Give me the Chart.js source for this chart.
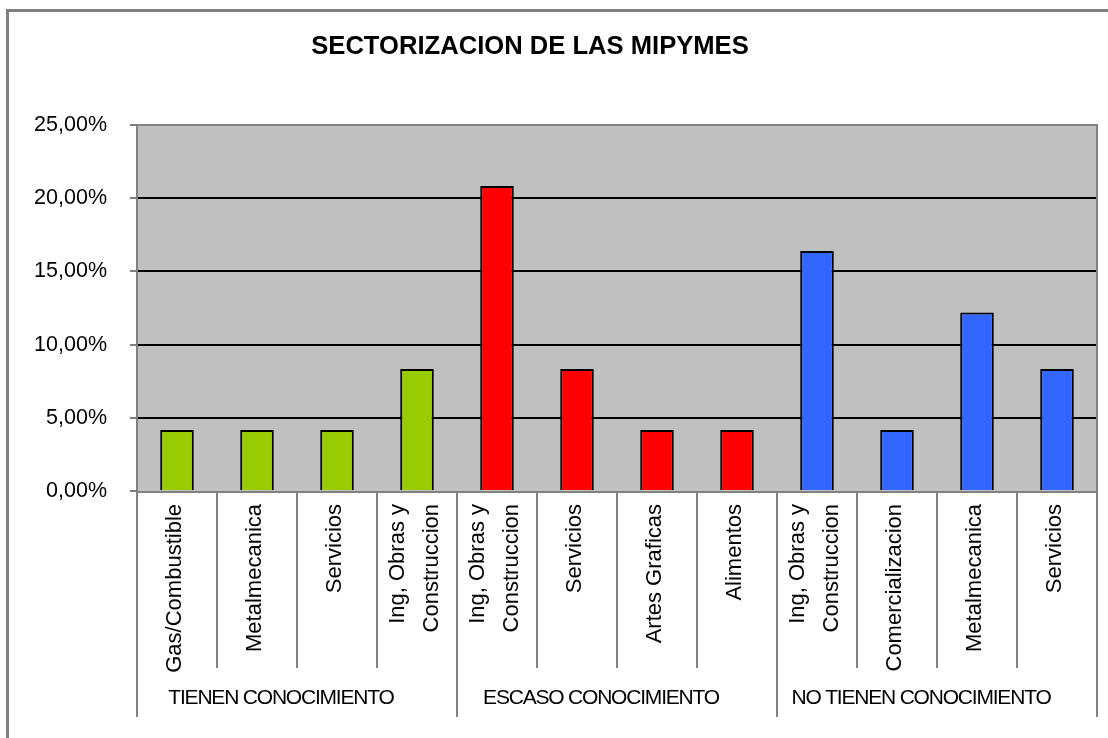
<!DOCTYPE html>
<html>
<head>
<meta charset="utf-8">
<script src="https://cdn.jsdelivr.net/npm/chart.js@4.4.0/dist/chart.umd.min.js"></script>
<style>
  body { margin: 0; background: #fff; }
  #wrap { width: 1108px; height: 738px; }
</style>
</head>
<body>
<div id="wrap"><canvas id="c" width="1108" height="738"></canvas></div>
<script>
// ===== Data =====
const categories = [
  "Gas/Combustible", "Metalmecanica", "Servicios", ["Ing, Obras y", "Construccion"],
  ["Ing, Obras y", "Construccion"], "Servicios", "Artes Graficas", "Alimentos",
  ["Ing, Obras y", "Construccion"], "Comercializacion", "Metalmecanica", "Servicios"
];
const values = [4.17, 4.17, 4.17, 8.33, 20.83, 8.33, 4.17, 4.17, 16.4, 4.17, 12.2, 8.33];
const groups = ["TIENEN CONOCIMIENTO", "ESCASO CONOCIMIENTO", "NO TIENEN CONOCIMIENTO"];
const groupSizes = [4, 4, 4];
const groupColors = ["#99CC00", "#FF0000", "#3366FF"];
const yTicks = [0, 5, 10, 15, 20, 25];

const barColors = [];
groupSizes.forEach((n, g) => { for (let i = 0; i < n; i++) barColors.push(groupColors[g]); });

const FONT = "'Liberation Sans', Arial, sans-serif";
const GRAY = "#808080";

// ===== Plugins =====
const frame = {
  id: "frame",
  beforeDraw(chart) {
    const { ctx, chartArea: a } = chart;
    ctx.save();
    ctx.fillStyle = "#fff";
    ctx.fillRect(0, 0, chart.width, chart.height);
    ctx.strokeStyle = GRAY;
    ctx.lineWidth = 3;
    ctx.strokeRect(7.5, 10.5, 1300, 900);
    ctx.fillStyle = "#C0C0C0";
    ctx.fillRect(a.left, a.top, a.right - a.left, a.bottom - a.top);
    ctx.restore();
  },
  afterDatasetsDraw(chart) {
    const { ctx, chartArea: a } = chart;
    ctx.save();
    ctx.strokeStyle = GRAY;
    ctx.lineWidth = 2;
    ctx.strokeRect(a.left, a.top, a.right - a.left, a.bottom - a.top + 1);
    ctx.restore();
  },
  afterDraw(chart) {
    const { ctx, chartArea: a } = chart;
    const x = chart.scales.x;
    const half = (x.getPixelForValue(1) - x.getPixelForValue(0)) / 2;

    // title
    ctx.save();
    ctx.fillStyle = "#000";
    ctx.font = "bold 25.6px " + FONT;
    ctx.textAlign = "center";
    ctx.textBaseline = "middle";
    ctx.fillText("SECTORIZACION DE LAS MIPYMES", 530, 47);
    ctx.restore();

    // separators
    ctx.save();
    ctx.strokeStyle = GRAY;
    ctx.lineWidth = 2;
    const bounds = [0];
    groupSizes.reduce((s, n) => { bounds.push(s + n); return s + n; }, 0);
    for (let i = 0; i <= categories.length; i++) {
      const px = Math.round(x.getPixelForValue(i) - half);
      const bottom = bounds.includes(i) ? 717 : 668;
      ctx.beginPath();
      ctx.moveTo(px, a.bottom);
      ctx.lineTo(px, bottom);
      ctx.stroke();
    }
    ctx.restore();

    // category labels (rotated)
    ctx.save();
    ctx.fillStyle = "#000";
    ctx.font = "22px " + FONT;
    categories.forEach((lab, i) => {
      const lines = Array.isArray(lab) ? lab : [lab];
      const cx = x.getPixelForValue(i);
      ctx.save();
      ctx.translate(cx - 2, 504);
      ctx.rotate(-Math.PI / 2);
      ctx.textAlign = "right";
      ctx.textBaseline = "middle";
      lines.forEach((ln, k) => {
        const off = (k - (lines.length - 1) / 2) * 34;
        ctx.fillText(ln, 0, off);
      });
      ctx.restore();
    });
    ctx.restore();

    // group labels
    ctx.save();
    ctx.fillStyle = "#000";
    ctx.font = "21px " + FONT;
    ctx.letterSpacing = "-1.2px";
    ctx.textAlign = "center";
    ctx.textBaseline = "middle";
    let start = 0;
    groups.forEach((g, gi) => {
      const l = x.getPixelForValue(start) - half;
      const r = x.getPixelForValue(start + groupSizes[gi] - 1) + half;
      ctx.fillText(g, (l + r) / 2 - 16, 698);
      start += groupSizes[gi];
    });
    ctx.restore();
  }
};

// ===== Chart =====
new Chart(document.getElementById("c"), {
  type: "bar",
  data: {
    labels: categories,
    datasets: [{
      data: values,
      backgroundColor: barColors,
      borderColor: "#000",
      borderWidth: 2,
      barPercentage: 0.42,
      categoryPercentage: 1
    }]
  },
  options: {
    responsive: false,
    animation: false,
    devicePixelRatio: 1,
    layout: { padding: { left: 0, top: 125, right: 11, bottom: 247 } },
    plugins: { legend: { display: false }, title: { display: false }, tooltip: { enabled: false } },
    scales: {
      x: { display: false },
      y: {
        min: 0,
        max: 25,
        afterFit(scale) { scale.width = 137; },
        afterBuildTicks(scale) { scale.ticks = yTicks.map(v => ({ value: v })); },
        border: { display: true, color: GRAY, width: 2 },
        grid: {
          color: (c) => (c.tick && (c.tick.value === 0 || c.tick.value === 25)) ? "rgba(0,0,0,0)" : "#000",
          lineWidth: 2,
          tickColor: GRAY,
          tickLength: 7,
          tickWidth: 2
        },
        ticks: {
          padding: 23,
          color: "#000",
          font: { family: FONT, size: 21.5 },
          callback: (v) => v.toFixed(2).replace(".", ",") + "%"
        }
      }
    }
  },
  plugins: [frame]
});
</script>
</body>
</html>
